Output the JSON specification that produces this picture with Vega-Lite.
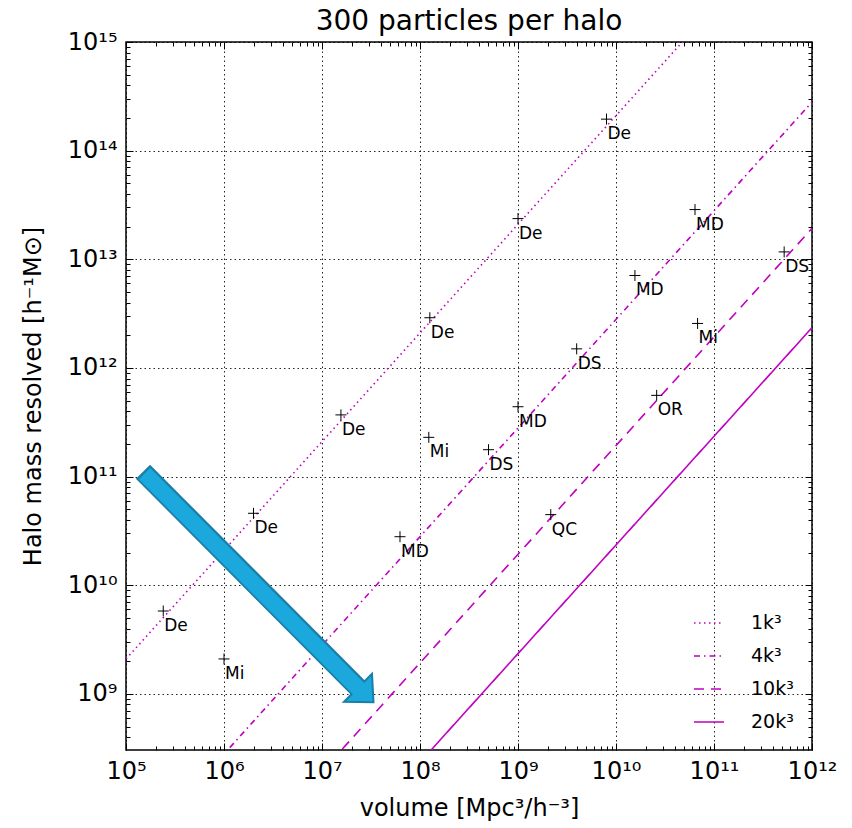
{
  "$schema": "https://vega.github.io/schema/vega-lite/v6.json",
  "width": 686,
  "height": 708,
  "autosize": {"type": "none"},
  "padding": {"left": 126, "top": 42, "right": 40, "bottom": 78},
  "background": "white",
  "config": {
    "view": {"stroke": "black", "strokeWidth": 1.5},
    "font": "DejaVu Sans",
    "axis": {
      "domain": false,
      "labelFont": "DejaVu Sans",
      "labelColor": "black",
      "labelFlush": false,
      "labelOverlap": false,
      "labelBound": false,
      "tickColor": "black",
      "tickWidth": 1,
      "titleFont": "DejaVu Sans",
      "titleFontWeight": "normal",
      "titleColor": "black",
      "gridColor": "black",
      "gridDash": [1.5, 3],
      "gridOpacity": 0.85,
      "gridWidth": 1
    }
  },
  "title": {"text": "300 particles per halo", "fontSize": 28, "fontWeight": "normal", "font": "DejaVu Sans", "color": "black", "offset": -6},
  "resolve": {"axis": {"x": "independent", "y": "independent"}},
  "layer": [
    {
      "data": {"values": [
        {"res": "1k³", "v": 1e5, "m": 2.1e9}, {"res": "1k³", "v": 1e12, "m": 2.1e16},
        {"res": "4k³", "v": 1e5, "m": 2.8e7}, {"res": "4k³", "v": 1e12, "m": 2.8e14},
        {"res": "10k³", "v": 1e5, "m": 1.93e6}, {"res": "10k³", "v": 1e12, "m": 1.93e13},
        {"res": "20k³", "v": 1e5, "m": 2.35e5}, {"res": "20k³", "v": 1e12, "m": 2.35e12}
      ]},
      "mark": {"type": "line", "clip": true, "color": "#bf00bf", "strokeWidth": 1.6},
      "encoding": {
        "x": {"field": "v", "type": "quantitative",
          "scale": {"type": "log", "domain": [1e5, 1e12], "nice": false},
          "axis": {"orient": "bottom", "values": [1e5, 1e6, 1e7, 1e8, 1e9, 1e10, 1e11, 1e12],
            "labelExpr": "['10⁵','10⁶','10⁷','10⁸','10⁹','10¹⁰','10¹¹','10¹²'][round(log(datum.value)/LN10)-5]",
            "grid": true, "tickSize": -7, "labelFontSize": 24, "labelPadding": 16,
            "title": "volume [Mpc³/h⁻³]", "titleFontSize": 24, "titlePadding": 13}},
        "y": {"field": "m", "type": "quantitative",
          "scale": {"type": "log", "domain": [3.05e8, 1e15], "nice": false},
          "axis": {"orient": "left", "values": [1e9, 1e10, 1e11, 1e12, 1e13, 1e14, 1e15],
            "labelExpr": "['10⁹','10¹⁰','10¹¹','10¹²','10¹³','10¹⁴','10¹⁵'][round(log(datum.value)/LN10)-9]",
            "grid": true, "tickSize": -7, "labelFontSize": 24, "labelPadding": 16,
            "title": "Halo mass resolved [h⁻¹M⊙]", "titleFontSize": 24, "titlePadding": 22}},
        "strokeDash": {"field": "res", "type": "nominal",
          "scale": {"domain": ["1k³", "4k³", "10k³", "20k³"], "range": [[1.5, 3.5], [6, 4, 1.5, 4], [10, 7], [1, 0]]},
          "legend": {"title": null, "orient": "bottom-right", "offset": 18, "padding": 0,
            "symbolType": "stroke", "symbolSize": 900, "symbolStrokeWidth": 1.6, "symbolStrokeColor": "#bf00bf",
            "labelFontSize": 19, "labelColor": "black", "labelFont": "DejaVu Sans", "labelOffset": 26, "rowPadding": 7}}
      }
    },
    {
      "data": {"values": [{"x": 1.49e5, "y": 1.11e11, "x2": 2.33e7, "y2": 1.14e9}]},
      "mark": {"type": "rule", "color": "#1a7ea6", "strokeWidth": 20, "strokeCap": "butt"},
      "encoding": {
        "x": {"field": "x", "type": "quantitative", "scale": {"type": "log", "domain": [1e5, 1e12], "nice": false},
          "axis": {"orient": "bottom", "values": [2e5,3e5,4e5,5e5,6e5,7e5,8e5,9e5,2e6,3e6,4e6,5e6,6e6,7e6,8e6,9e6,2e7,3e7,4e7,5e7,6e7,7e7,8e7,9e7,2e8,3e8,4e8,5e8,6e8,7e8,8e8,9e8,2e9,3e9,4e9,5e9,6e9,7e9,8e9,9e9,2e10,3e10,4e10,5e10,6e10,7e10,8e10,9e10,2e11,3e11,4e11,5e11,6e11,7e11,8e11,9e11],
            "labels": false, "grid": false, "tickSize": -4, "title": null}},
        "y": {"field": "y", "type": "quantitative", "scale": {"type": "log", "domain": [3.05e8, 1e15], "nice": false},
          "axis": {"orient": "left", "values": [4e8,5e8,6e8,7e8,8e8,9e8,2e9,3e9,4e9,5e9,6e9,7e9,8e9,9e9,2e10,3e10,4e10,5e10,6e10,7e10,8e10,9e10,2e11,3e11,4e11,5e11,6e11,7e11,8e11,9e11,2e12,3e12,4e12,5e12,6e12,7e12,8e12,9e12,2e13,3e13,4e13,5e13,6e13,7e13,8e13,9e13,2e14,3e14,4e14,5e14,6e14,7e14,8e14,9e14],
            "labels": false, "grid": false, "tickSize": -4, "title": null}},
        "x2": {"field": "x2"},
        "y2": {"field": "y2"}
      }
    },
    {
      "data": {"values": [{"x": 2.33e7, "y": 1.14e9}]},
      "mark": {"type": "point", "shape": "M14,-14L15.5,14.5L-14,14Z", "size": 4, "filled": true, "fill": "#1ba8dd", "stroke": "#1a7ea6", "strokeWidth": 2, "opacity": 1},
      "encoding": {
        "x": {"field": "x", "type": "quantitative", "scale": {"type": "log", "domain": [1e5, 1e12], "nice": false},
          "axis": {"orient": "top", "values": [1e5, 1e6, 1e7, 1e8, 1e9, 1e10, 1e11, 1e12], "labels": false, "grid": false, "tickSize": -7, "title": null}},
        "y": {"field": "y", "type": "quantitative", "scale": {"type": "log", "domain": [3.05e8, 1e15], "nice": false},
          "axis": {"orient": "right", "values": [1e9, 1e10, 1e11, 1e12, 1e13, 1e14, 1e15], "labels": false, "grid": false, "tickSize": -7, "title": null}}
      }
    },
    {
      "data": {"values": [{"x": 1.545e5, "y": 1.066e11, "x2": 2.56e7, "y2": 1.04e9}]},
      "mark": {"type": "rule", "color": "#1ba8dd", "strokeWidth": 16, "strokeCap": "butt"},
      "encoding": {
        "x": {"field": "x", "type": "quantitative", "scale": {"type": "log", "domain": [1e5, 1e12], "nice": false},
          "axis": {"orient": "top", "values": [2e5,3e5,4e5,5e5,6e5,7e5,8e5,9e5,2e6,3e6,4e6,5e6,6e6,7e6,8e6,9e6,2e7,3e7,4e7,5e7,6e7,7e7,8e7,9e7,2e8,3e8,4e8,5e8,6e8,7e8,8e8,9e8,2e9,3e9,4e9,5e9,6e9,7e9,8e9,9e9,2e10,3e10,4e10,5e10,6e10,7e10,8e10,9e10,2e11,3e11,4e11,5e11,6e11,7e11,8e11,9e11],
            "labels": false, "grid": false, "tickSize": -4, "title": null}},
        "y": {"field": "y", "type": "quantitative", "scale": {"type": "log", "domain": [3.05e8, 1e15], "nice": false},
          "axis": {"orient": "right", "values": [4e8,5e8,6e8,7e8,8e8,9e8,2e9,3e9,4e9,5e9,6e9,7e9,8e9,9e9,2e10,3e10,4e10,5e10,6e10,7e10,8e10,9e10,2e11,3e11,4e11,5e11,6e11,7e11,8e11,9e11,2e12,3e12,4e12,5e12,6e12,7e12,8e12,9e12,2e13,3e13,4e13,5e13,6e13,7e13,8e13,9e13,2e14,3e14,4e14,5e14,6e14,7e14,8e14,9e14],
            "labels": false, "grid": false, "tickSize": -4, "title": null}},
        "x2": {"field": "x2"},
        "y2": {"field": "y2"}
      }
    },
    {
      "data": {"name": "pts", "values": [
        {"v": 2.4e5, "m": 5.8e9, "lab": "De"},
        {"v": 1.0e6, "m": 2.1e9, "lab": "Mi"},
        {"v": 2.0e6, "m": 4.6e10, "lab": "De"},
        {"v": 1.56e7, "m": 3.7e11, "lab": "De"},
        {"v": 6.25e7, "m": 2.8e10, "lab": "MD"},
        {"v": 1.23e8, "m": 2.3e11, "lab": "Mi"},
        {"v": 1.26e8, "m": 2.9e12, "lab": "De"},
        {"v": 5.0e8, "m": 1.77e11, "lab": "DS"},
        {"v": 1.0e9, "m": 4.4e11, "lab": "MD"},
        {"v": 1.0e9, "m": 2.37e13, "lab": "De"},
        {"v": 2.16e9, "m": 4.47e10, "lab": "QC"},
        {"v": 3.97e9, "m": 1.5e12, "lab": "DS"},
        {"v": 8.0e9, "m": 1.95e14, "lab": "De"},
        {"v": 1.56e10, "m": 7.1e12, "lab": "MD"},
        {"v": 2.6e10, "m": 5.6e11, "lab": "OR"},
        {"v": 6.4e10, "m": 2.87e13, "lab": "MD"},
        {"v": 6.8e10, "m": 2.57e12, "lab": "Mi"},
        {"v": 5.2e11, "m": 1.17e13, "lab": "DS"}
      ]},
      "layer": [
        {
          "mark": {"type": "point", "shape": "M-1,0L1,0M0,-1L0,1", "size": 121, "filled": false, "stroke": "black", "strokeWidth": 1, "opacity": 1},
          "encoding": {
            "x": {"field": "v", "type": "quantitative", "scale": {"type": "log", "domain": [1e5, 1e12], "nice": false}, "axis": null},
            "y": {"field": "m", "type": "quantitative", "scale": {"type": "log", "domain": [3.05e8, 1e15], "nice": false}, "axis": null}
          }
        },
        {
          "mark": {"type": "text", "align": "left", "baseline": "alphabetic", "dx": 1, "dy": 20, "fontSize": 17, "font": "DejaVu Sans", "color": "black"},
          "encoding": {
            "x": {"field": "v", "type": "quantitative", "scale": {"type": "log", "domain": [1e5, 1e12], "nice": false}, "axis": null},
            "y": {"field": "m", "type": "quantitative", "scale": {"type": "log", "domain": [3.05e8, 1e15], "nice": false}, "axis": null},
            "text": {"field": "lab"}
          }
        }
      ]
    }
  ]
}
